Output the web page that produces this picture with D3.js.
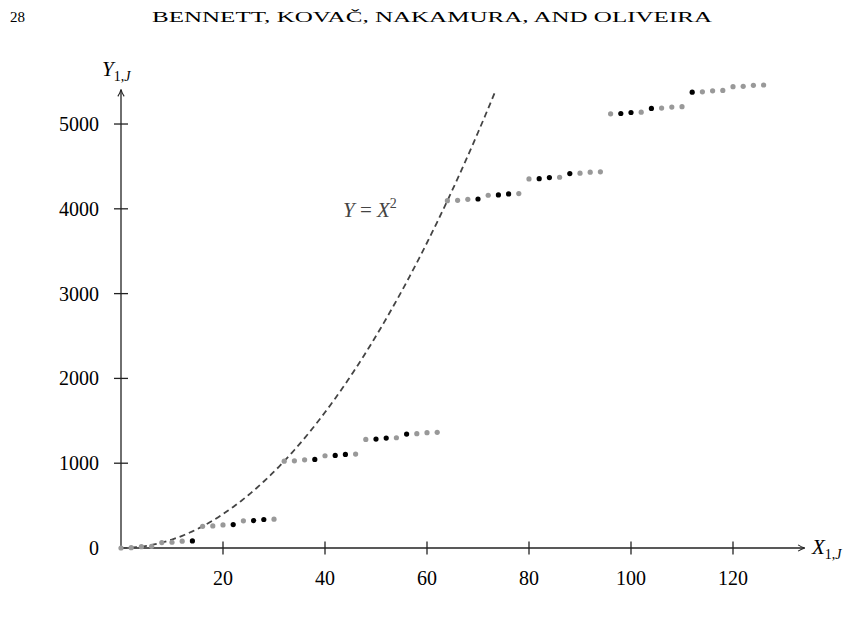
<!DOCTYPE html>
<html>
<head>
<meta charset="utf-8">
<script src="https://cdn.jsdelivr.net/npm/d3@7"></script>
<style>
  body { margin: 0; background: #fff; }
  text { font-family: "Liberation Serif", "DejaVu Serif", serif; }
</style>
</head>
<body>
<script>
// data
var xVals = [0, 2, 4, 6, 8, 10, 12, 14,
             16, 18, 20, 22, 24, 26, 28, 30,
             32, 34, 36, 38, 40, 42, 44, 46,
             48, 50, 52, 54, 56, 58, 60, 62,
             64, 66, 68, 70, 72, 74, 76, 78,
             80, 82, 84, 86, 88, 90, 92, 94,
             96, 98, 100, 102, 104, 106, 108, 110,
             112, 114, 116, 118, 120, 122, 124, 126];
var yVals = [0, 4, 16, 20, 64, 68, 80, 84,
             256, 260, 272, 276, 320, 324, 336, 340,
             1024, 1028, 1040, 1044, 1088, 1092, 1104, 1108,
             1280, 1284, 1296, 1300, 1344, 1348, 1360, 1364,
             4096, 4100, 4112, 4116, 4160, 4164, 4176, 4180,
             4352, 4356, 4368, 4372, 4416, 4420, 4432, 4436,
             5120, 5124, 5136, 5140, 5184, 5188, 5200, 5204,
             5376, 5380, 5392, 5396, 5440, 5444, 5456, 5460];
// x positions of the points drawn in black
var blackX = [14, 22, 26, 28, 38, 42, 44, 50, 52, 56, 70, 74, 76,
              82, 84, 88, 98, 100, 104, 112];
var xTicks = [20, 40, 60, 80, 100, 120];
var yTicks = [0, 1000, 2000, 3000, 4000, 5000];
var curveRange = [0, 73.5];   // Y = X^2 drawn over this span

var W = 866, H = 624;
var svg = d3.select("body").append("svg")
  .attr("width", W).attr("height", H);

var x = d3.scaleLinear().domain([0, 134]).range([121, 804.4]);
var y = d3.scaleLinear().domain([0, 5400]).range([548, 90.1]);

// page header
svg.append("text").attr("x", 10).attr("y", 22)
  .attr("font-size", 15).text("28");
svg.append("text").attr("x", 432).attr("y", 22)
  .attr("text-anchor", "middle").attr("font-size", 15)
  .attr("textLength", 560).attr("lengthAdjust", "spacingAndGlyphs")
  .text("BENNETT, KOVAČ, NAKAMURA, AND OLIVEIRA");

// arrow marker
svg.append("defs").append("marker")
  .attr("id", "arr").attr("viewBox", "0 0 10 10")
  .attr("refX", 9).attr("refY", 5)
  .attr("markerWidth", 9).attr("markerHeight", 9)
  .attr("markerUnits", "userSpaceOnUse")
  .attr("orient", "auto")
  .append("path").attr("d", "M2,1.5 Q6,4 9.5,5 Q6,6 2,8.5")
  .attr("fill", "none").attr("stroke", "#222").attr("stroke-width", 1.2);

// axes
svg.append("line")
  .attr("x1", x(0)).attr("y1", y(0)).attr("x2", x(134)).attr("y2", y(0))
  .attr("stroke", "#222").attr("stroke-width", 1.3).attr("marker-end", "url(#arr)");
svg.append("line")
  .attr("x1", x(0)).attr("y1", y(0)).attr("x2", x(0)).attr("y2", y(5400))
  .attr("stroke", "#222").attr("stroke-width", 1.3).attr("marker-end", "url(#arr)");

// x ticks
svg.selectAll(".xt").data(xTicks).enter().append("line")
  .attr("x1", d => x(d)).attr("x2", d => x(d))
  .attr("y1", y(0) - 6.5).attr("y2", y(0) + 6.5)
  .attr("stroke", "#222").attr("stroke-width", 1.3);
svg.selectAll(".xl").data(xTicks).enter().append("text")
  .attr("x", d => x(d)).attr("y", y(0) + 37)
  .attr("text-anchor", "middle").attr("font-size", 20)
  .text(d => d);

// y ticks
svg.selectAll(".yt").data(yTicks.filter(d => d > 0)).enter().append("line")
  .attr("x1", x(0) - 7).attr("x2", x(0) + 7)
  .attr("y1", d => y(d)).attr("y2", d => y(d))
  .attr("stroke", "#222").attr("stroke-width", 1.3);
svg.selectAll(".yl").data(yTicks).enter().append("text")
  .attr("x", x(0) - 22).attr("y", d => y(d) + 7)
  .attr("text-anchor", "end").attr("font-size", 20)
  .text(d => d);

// axis labels
var yl = svg.append("text").attr("x", 102).attr("y", 76).attr("font-size", 21);
yl.append("tspan").attr("font-style", "italic").text("Y");
yl.append("tspan").attr("font-size", 14).attr("dy", 5).text("1,");
yl.append("tspan").attr("font-size", 14).attr("font-style", "italic").text("J");

var xl = svg.append("text").attr("x", 812).attr("y", 554).attr("font-size", 21);
xl.append("tspan").attr("font-style", "italic").text("X");
xl.append("tspan").attr("font-size", 14).attr("dy", 5).text("1,");
xl.append("tspan").attr("font-size", 14).attr("font-style", "italic").text("J");

// dashed curve Y = X^2
var cx = d3.range(curveRange[0], curveRange[1] + 0.01, 0.5);
svg.append("path")
  .datum(cx)
  .attr("d", d3.line().x(d => x(d)).y(d => y(d * d)))
  .attr("fill", "none").attr("stroke", "#444")
  .attr("stroke-width", 1.8).attr("stroke-dasharray", "6,4");

var cl = svg.append("text").attr("x", 343).attr("y", 217)
  .attr("font-size", 21).attr("fill", "#444");
cl.append("tspan").attr("font-style", "italic").text("Y");
cl.append("tspan").text(" = ");
cl.append("tspan").attr("font-style", "italic").text("X");
cl.append("tspan").attr("font-size", 14).attr("dy", -9).text("2");

// points
var pts = xVals.map((v, i) => ({ x: v, y: yVals[i] }));
svg.selectAll(".pt").data(pts).enter().append("circle")
  .attr("cx", d => x(d.x)).attr("cy", d => y(d.y)).attr("r", 2.6)
  .attr("fill", d => blackX.indexOf(d.x) >= 0 ? "#000" : "#999");
</script>
</body>
</html>
